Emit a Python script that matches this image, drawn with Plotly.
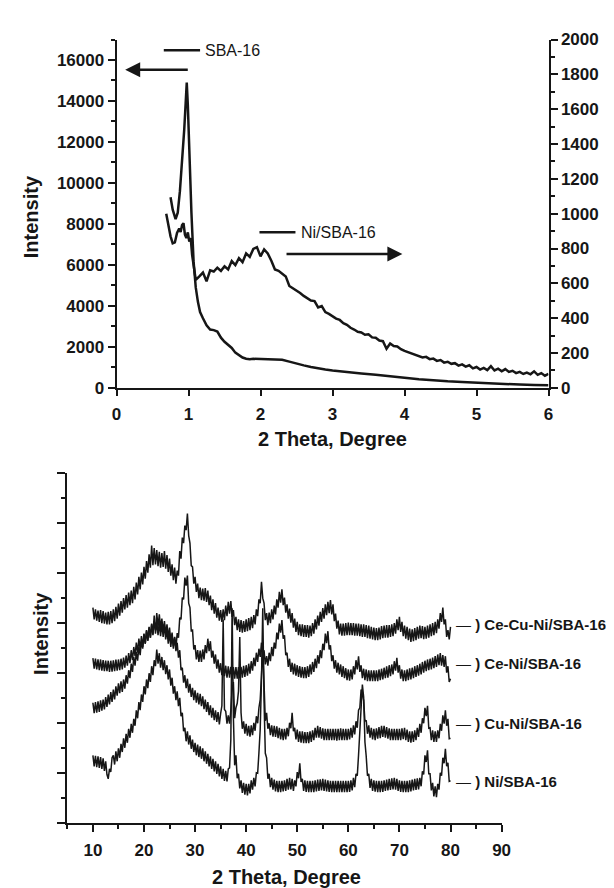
import numpy as np
import plotly.graph_objects as go

# ---------------- top panel data ----------------
sba16_x = [0.75, 0.78, 0.82, 0.85, 0.88, 0.91, 0.94, 0.96, 0.975, 0.99, 1.0, 1.02, 1.04, 1.07,
           1.1, 1.13, 1.16, 1.2, 1.25, 1.3, 1.35, 1.4, 1.45, 1.5, 1.55, 1.6, 1.65, 1.7, 1.75,
           1.8, 1.85, 1.9, 2.0, 2.1, 2.2, 2.3, 2.4, 2.5, 2.6, 2.7, 2.8, 2.9, 3.0, 3.2, 3.4,
           3.6, 3.8, 4.0, 4.2, 4.4, 4.6, 4.8, 5.0, 5.2, 5.4, 5.6, 5.8, 6.0]
sba16_y = [9300, 8700, 8230, 8550, 9600, 10900, 12600, 13900, 14900, 13800, 12500, 10500, 8550, 6160,
           4900, 4200, 3700, 3400, 3050, 2850, 2820, 2750, 2450, 2250, 2120, 1950, 1720, 1600, 1480,
           1420, 1400, 1420, 1400, 1390, 1380, 1370, 1280, 1180, 1100, 1020, 950, 900, 850, 760, 700,
           640, 580, 490, 420, 360, 320, 290, 250, 220, 190, 160, 140, 125]

ni_head_x = [0.69, 0.72, 0.75, 0.78, 0.81, 0.84, 0.87, 0.89, 0.91, 0.93, 0.95, 0.97, 0.99, 1.01, 1.03, 1.05, 1.07]
ni_head_y = [1000, 930, 870, 830, 835, 890, 915, 895, 935, 945, 880, 860, 893, 840, 860, 762, 693]
ni_tail_y = [620, 640, 662, 612, 675, 668, 690, 672, 698, 680, 728, 705, 745, 722, 772, 752, 798, 808,
             755, 795, 772, 730, 680, 672, 658, 640, 585, 572, 558, 545, 528, 515, 502, 498, 462, 470,
             435, 425, 410, 398, 390, 372, 362, 345, 335, 322, 318, 305, 308, 290, 288, 272, 268, 225,
             255, 240, 238, 222, 212, 205, 198, 192, 185, 175, 178, 165, 168, 155, 160, 145, 150, 138,
             142, 128, 135, 122, 130, 112, 120, 105, 115, 102, 125, 100, 110, 95, 108, 92, 98, 85, 92,
             80, 88, 78, 95, 75, 85, 70, 80]
ni_tail_x = list(np.round(np.arange(1.10, 6.0001, 0.05), 2))
ni_top_x = ni_head_x + ni_tail_x
ni_top_y = ni_head_y + ni_tail_y

# ---------------- bottom panel data (2θ from 10 to 80, 0.25° steps) ----------------
two_theta = np.round(np.arange(10, 80.0001, 0.25), 2)

ce_cu_ni = [
    862, 815, 855, 810, 850, 805, 852, 800, 848, 798, 842, 795, 845, 795, 848, 800,
    855, 808, 865, 818, 878, 830, 888, 842, 900, 855, 912, 862, 922, 872, 930, 880,
    945, 895, 962, 915, 985, 935, 1002, 955, 1025, 978, 1048, 1002, 1075, 1022, 1110, 1032,
    1100, 1035, 1092, 1028, 1085, 1022, 1080, 1025, 1088, 1018, 1072, 1005, 1058, 990, 1035, 972,
    1022, 958, 1010, 990, 1088, 1058, 1142, 1120, 1190, 1172, 1238, 1150, 1120, 1030, 1025, 958,
    985, 925, 958, 900, 942, 892, 938, 890, 940, 885, 930, 872, 910, 852, 895, 838,
    880, 822, 862, 810, 852, 805, 855, 812, 870, 828, 885, 838, 888, 825, 852, 792,
    825, 772, 815, 765, 812, 762, 808, 765, 815, 768, 820, 772, 825, 780, 832, 795,
    855, 828, 895, 880, 965, 900, 880, 812, 840, 792, 842, 800, 855, 815, 870, 835,
    895, 862, 925, 882, 935, 872, 902, 842, 875, 818, 858, 802, 840, 782, 818, 765,
    805, 752, 795, 748, 795, 745, 792, 745, 792, 742, 790, 748, 800, 758, 815, 775,
    830, 790, 845, 805, 860, 818, 875, 832, 885, 840, 892, 835, 875, 808, 838, 778,
    810, 755, 798, 750, 798, 750, 800, 752, 802, 752, 800, 752, 800, 750, 798, 750,
    798, 748, 795, 745, 795, 745, 792, 740, 790, 738, 785, 735, 782, 732, 780, 732,
    782, 735, 788, 740, 790, 742, 792, 742, 792, 745, 795, 748, 800, 758, 815, 772,
    825, 765, 805, 748, 790, 738, 785, 732, 778, 725, 775, 728, 780, 732, 785, 738,
    790, 740, 788, 736, 785, 738, 790, 742, 795, 748, 800, 752, 805, 760, 815, 778,
    840, 805, 862, 795, 815, 745, 772, 735, 785]

ce_ni = [
    660, 618, 658, 615, 655, 612, 655, 610, 652, 608, 650, 608, 650, 605, 650, 606,
    652, 608, 655, 610, 655, 612, 658, 615, 662, 622, 670, 630, 680, 640, 692, 652,
    705, 668, 722, 682, 738, 695, 748, 705, 758, 718, 772, 730, 785, 742, 798, 752,
    830, 758, 805, 752, 800, 748, 798, 745, 795, 735, 775, 718, 760, 705, 750, 698,
    745, 700, 760, 742, 822, 815, 902, 895, 982, 950, 990, 880, 862, 770, 772, 695,
    712, 655, 692, 645, 690, 645, 695, 655, 712, 680, 738, 688, 728, 662, 690, 638,
    675, 618, 655, 602, 640, 592, 635, 588, 630, 582, 628, 582, 625, 580, 625, 578,
    625, 578, 625, 580, 625, 582, 630, 585, 632, 590, 638, 598, 648, 610, 662, 628,
    682, 645, 698, 665, 722, 662, 692, 635, 668, 630, 682, 648, 705, 668, 722, 698,
    762, 735, 798, 762, 812, 738, 752, 672, 682, 625, 658, 605, 642, 595, 638, 590,
    632, 585, 628, 582, 625, 580, 625, 580, 628, 585, 635, 595, 645, 605, 658, 620,
    672, 638, 692, 660, 718, 692, 758, 720, 768, 695, 712, 648, 672, 618, 652, 602,
    642, 595, 635, 585, 628, 580, 620, 572, 615, 570, 615, 575, 628, 595, 652, 615,
    668, 605, 632, 580, 618, 572, 615, 568, 612, 568, 612, 568, 612, 568, 612, 568,
    615, 572, 618, 575, 622, 580, 628, 582, 632, 588, 635, 595, 648, 610, 662, 602,
    632, 578, 615, 568, 612, 568, 615, 572, 620, 575, 622, 580, 628, 585, 632, 590,
    638, 595, 645, 602, 650, 608, 655, 612, 658, 615, 662, 620, 668, 625, 675, 632,
    680, 630, 672, 625, 668, 602, 628, 565, 578]

cu_ni = [
    482, 440, 485, 442, 488, 445, 492, 450, 495, 455, 505, 465, 515, 475, 525, 485,
    535, 495, 548, 510, 560, 520, 568, 525, 575, 538, 592, 558, 612, 580, 638, 605,
    665, 630, 685, 650, 705, 672, 730, 698, 755, 718, 770, 730, 782, 742, 795, 755,
    808, 772, 840, 785, 835, 780, 818, 765, 808, 755, 795, 742, 782, 728, 762, 708,
    742, 688, 722, 662, 692, 612, 622, 562, 592, 540, 578, 522, 558, 505, 542, 492,
    532, 482, 522, 475, 518, 468, 508, 456, 495, 445, 485, 432, 472, 422, 462, 412,
    452, 405, 445, 395, 438, 470, 815, 455, 448, 398, 432, 398, 452, 535, 565, 420,
    462, 480, 528, 745, 442, 378, 408, 358, 398, 350, 390, 346, 392, 352, 402, 370,
    428, 400, 462, 495, 590, 700, 560, 410, 442, 378, 400, 352, 392, 346, 390, 345,
    388, 340, 382, 335, 378, 332, 378, 335, 382, 348, 402, 380, 442, 368, 382, 335,
    375, 325, 368, 322, 368, 320, 365, 320, 365, 320, 368, 325, 372, 332, 382, 342,
    390, 342, 385, 338, 380, 332, 378, 332, 378, 332, 378, 332, 378, 332, 378, 330,
    378, 332, 380, 332, 378, 332, 378, 332, 378, 335, 382, 342, 392, 355, 408, 382,
    452, 462, 535, 510, 492, 408, 412, 358, 392, 342, 382, 335, 378, 332, 380, 338,
    385, 340, 390, 345, 390, 342, 385, 338, 380, 332, 378, 332, 378, 332, 378, 332,
    378, 332, 380, 336, 382, 332, 375, 325, 368, 322, 368, 325, 372, 332, 382, 345,
    398, 362, 420, 400, 462, 428, 470, 380, 382, 332, 372, 325, 368, 325, 372, 340,
    398, 370, 432, 398, 452, 390, 418, 338, 340]

ni_sba16 = [
    272, 228, 270, 225, 268, 222, 265, 218, 260, 210, 248, 195, 178, 218, 205, 262,
    272, 235, 288, 248, 300, 262, 318, 285, 340, 302, 358, 322, 378, 342, 398, 362,
    418, 390, 452, 420, 485, 452, 515, 485, 548, 515, 575, 540, 600, 565, 628, 592,
    652, 628, 695, 638, 680, 622, 665, 612, 652, 596, 632, 575, 615, 550, 582, 518,
    548, 492, 528, 468, 502, 428, 442, 368, 382, 328, 368, 315, 352, 298, 335, 285,
    322, 272, 315, 265, 308, 258, 300, 248, 288, 238, 278, 228, 268, 218, 258, 208,
    248, 198, 238, 188, 228, 178, 218, 170, 210, 168, 218, 222, 335, 860, 425, 232,
    272, 180, 198, 140, 172, 122, 162, 115, 158, 112, 158, 120, 172, 135, 182, 148,
    202, 200, 282, 375, 575, 860, 490, 280, 262, 178, 198, 145, 182, 135, 175, 128,
    170, 125, 170, 125, 170, 128, 172, 130, 178, 135, 182, 136, 178, 130, 172, 148,
    205, 180, 240, 165, 178, 130, 172, 126, 170, 125, 170, 125, 170, 125, 172, 128,
    175, 130, 176, 132, 178, 130, 175, 128, 172, 126, 170, 125, 170, 125, 170, 125,
    170, 125, 170, 125, 170, 125, 170, 125, 170, 126, 172, 132, 182, 145, 198, 190,
    272, 360, 485, 555, 505, 325, 268, 190, 198, 142, 178, 130, 172, 127, 170, 125,
    170, 125, 170, 126, 172, 130, 175, 132, 178, 134, 180, 136, 182, 135, 178, 130,
    172, 126, 170, 125, 170, 125, 170, 125, 172, 128, 175, 132, 178, 134, 180, 136,
    182, 148, 208, 195, 272, 245, 292, 198, 198, 132, 162, 108, 148, 105, 158, 135,
    202, 190, 262, 240, 298, 228, 242, 168, 170]

series_names = ["Ce-Cu-Ni/SBA-16", "Ce-Ni/SBA-16", "Cu-Ni/SBA-16", "Ni/SBA-16"]
series_values = [ce_cu_ni, ce_ni, cu_ni, ni_sba16]
label_levels = [794, 640, 400, 166]

INK = "#161616"
FONT = "Liberation Sans, Arial, sans-serif"

fig = go.Figure()
fig.add_trace(go.Scatter(x=sba16_x, y=sba16_y, mode="lines", line=dict(color=INK, width=2.5),
                         xaxis="x", yaxis="y", showlegend=False))
fig.add_trace(go.Scatter(x=ni_top_x, y=ni_top_y, mode="lines", line=dict(color=INK, width=2.5),
                         xaxis="x", yaxis="y2", showlegend=False))
for name, vals in zip(series_names, series_values):
    fig.add_trace(go.Scatter(x=two_theta, y=vals, mode="lines", line=dict(color=INK, width=1.5),
                             xaxis="x2", yaxis="y3", showlegend=False, name=name))

tickfont = dict(family=FONT, size=17, color=INK)
axis_common = dict(showline=True, linecolor=INK, linewidth=2, ticks="outside", tickcolor=INK,
                   tickwidth=1.5, showgrid=False, zeroline=False, tickfont=tickfont,
                   tickprefix="<b>", ticksuffix="</b>", tickformat="d")

fig.update_layout(
    width=614, height=888, margin=dict(l=0, r=0, t=0, b=0),
    paper_bgcolor="white", plot_bgcolor="white", showlegend=False,
    xaxis=dict(domain=[0.1726, 0.8925], anchor="y", range=[0, 6], dtick=1, tick0=0, ticklen=6,
               ticklabelstandoff=4, **axis_common),
    yaxis=dict(domain=[0.5732, 0.9741], anchor="x", range=[0, 17000], dtick=2000, tick0=0,
               ticklen=7, minor=dict(dtick=1000, ticklen=4, tickcolor=INK, ticks="outside"),
               **axis_common),
    yaxis2=dict(overlaying="y", side="right", anchor="x", range=[0, 2000], dtick=200, tick0=0,
                ticklen=7, minor=dict(dtick=100, ticklen=4, tickcolor=INK, ticks="outside"),
                **axis_common),
    xaxis2=dict(domain=[0.0906, 0.8143], anchor="y3", range=[5, 90], dtick=10, tick0=10, ticklen=7,
                ticklabelstandoff=3,
                minor=dict(dtick=5, ticklen=4, tickcolor=INK, ticks="outside"), **axis_common),
    yaxis3=dict(domain=[0.0721, 0.4752], anchor="x2", range=[0, 1400], dtick=200, tick0=0,
                ticklen=8, showticklabels=False,
                minor=dict(dtick=100, ticklen=4, tickcolor=INK, ticks="outside"), **axis_common),
)

title_font = dict(family=FONT, size=20, color=INK)
center = dict(xanchor="center", yanchor="middle", showarrow=False, xref="paper", yref="paper",
              font=title_font)
annotations = [
    dict(text="<b>Intensity</b>", x=18 / 614, y=1 - 204 / 888, textangle=-90, **center),
    dict(text="<b>2 Theta, Degree</b>", x=327 / 614, y=1 - 431 / 888, **center),
    dict(text="<b>Intensity</b>", x=28 / 614, y=1 - 630 / 888, textangle=-90, **center),
    dict(text="<b>2 Theta, Degree</b>", x=280 / 614, y=1 - 879 / 888, **center),
    # SBA-16 label and arrow to left axis
    dict(text="SBA-16", x=1.2, y=16476, xref="x", yref="y", xanchor="left", yanchor="middle",
         showarrow=False, font=dict(family=FONT, size=16, color=INK)),
    dict(text="", x=0.12, y=15520, ax=1.01, ay=15520, xref="x", yref="y", axref="x", ayref="y",
         showarrow=True, arrowhead=2, arrowsize=1.2, arrowwidth=2.5, arrowcolor=INK),
    # Ni/SBA-16 label and arrow to right axis
    dict(text="Ni/SBA-16", x=2.53, y=893, xref="x", yref="y2", xanchor="left", yanchor="middle",
         showarrow=False, font=dict(family=FONT, size=16, color=INK)),
    dict(text="", x=3.97, y=768, ax=2.34, ay=768, xref="x", yref="y2", axref="x", ayref="y2",
         showarrow=True, arrowhead=2, arrowsize=1.2, arrowwidth=2.5, arrowcolor=INK),
]
for name, lvl in zip(series_names, label_levels):
    annotations.append(dict(text="— <b>) " + name + "</b>", x=80.6, y=lvl, xref="x2", yref="y3",
                            xanchor="left", yanchor="middle", showarrow=False,
                            font=dict(family=FONT, size=15, color=INK)))
fig.update_layout(annotations=annotations)

fig.add_shape(type="line", x0=0.656, x1=1.16, y0=16476, y1=16476, xref="x", yref="y",
              line=dict(color=INK, width=2.5))
fig.add_shape(type="line", x0=1.985, x1=2.485, y0=893, y1=893, xref="x", yref="y2",
              line=dict(color=INK, width=2.5))

fig.write_html("out.html")
